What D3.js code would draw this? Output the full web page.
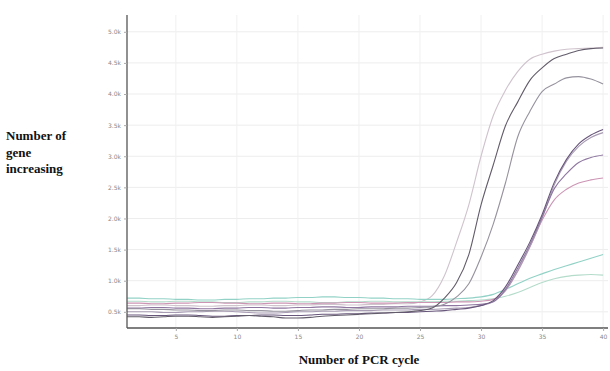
<!DOCTYPE html>
<html>
<head>
<meta charset="utf-8">
<script src="https://cdn.jsdelivr.net/npm/d3@7"></script>
<style>
  html, body { margin: 0; padding: 0; background: #fff; }
  svg { display: block; }
</style>
</head>
<body>
<svg id="chart" width="610" height="371"></svg>
<script>
// ---- data (values in thousands) ----
const cycles = d3.range(1, 41);
const xTickValues = [5, 10, 15, 20, 25, 30, 35, 40];
const yTickValues = [0.5, 1.0, 1.5, 2.0, 2.5, 3.0, 3.5, 4.0, 4.5, 5.0];
const yTickLabels = ["0.5k", "1.0k", "1.5k", "2.0k", "2.5k", "3.0k", "3.5k", "4.0k", "4.5k", "5.0k"];

const seriesNames = ["A", "B", "C", "R1", "R2", "R3", "R4", "G1", "G2"];
const seriesColors = ["#cfc3cc", "#625c6a", "#96929e", "#67557a", "#8e76a0", "#cc95b4", "#a89cb4", "#92d2c6", "#b4dccb"];

const sA = [0.60,0.60,0.61,0.61,0.60,0.60,0.59,0.59,0.60,0.60,
            0.61,0.61,0.60,0.60,0.61,0.61,0.62,0.62,0.61,0.61,
            0.62,0.62,0.63,0.63,0.66,0.76,1.08,1.62,2.22,3.00,
            3.65,4.06,4.36,4.56,4.64,4.69,4.72,4.73,4.74,4.75];
const sB = [0.42,0.42,0.41,0.42,0.43,0.43,0.42,0.41,0.42,0.43,
            0.44,0.43,0.42,0.40,0.40,0.41,0.43,0.44,0.45,0.46,
            0.47,0.48,0.49,0.50,0.52,0.56,0.72,0.97,1.42,2.22,
            2.86,3.49,3.87,4.22,4.42,4.57,4.64,4.70,4.73,4.74];
const sC = [0.55,0.55,0.54,0.54,0.53,0.53,0.52,0.52,0.53,0.53,
            0.52,0.52,0.51,0.51,0.52,0.53,0.53,0.54,0.54,0.55,
            0.55,0.55,0.56,0.56,0.57,0.58,0.62,0.74,0.95,1.38,
            1.91,2.57,3.31,3.72,4.04,4.16,4.26,4.28,4.24,4.16];
const sR1 = [0.45,0.45,0.44,0.44,0.45,0.45,0.44,0.43,0.43,0.44,
             0.44,0.45,0.45,0.44,0.44,0.45,0.46,0.46,0.47,0.47,
             0.48,0.48,0.49,0.49,0.50,0.51,0.52,0.54,0.56,0.60,
             0.68,0.90,1.25,1.62,2.06,2.58,2.95,3.20,3.34,3.43];
const sR2 = [0.56,0.56,0.57,0.57,0.56,0.56,0.55,0.55,0.56,0.56,
             0.57,0.57,0.56,0.56,0.57,0.57,0.58,0.58,0.57,0.57,
             0.58,0.58,0.58,0.59,0.59,0.59,0.60,0.60,0.61,0.62,
             0.66,0.86,1.20,1.58,2.02,2.48,2.72,2.90,2.98,3.02];
const sR3 = [0.64,0.64,0.63,0.63,0.64,0.64,0.65,0.65,0.64,0.64,
             0.63,0.63,0.64,0.64,0.63,0.63,0.64,0.64,0.65,0.65,
             0.64,0.64,0.64,0.65,0.65,0.65,0.65,0.66,0.66,0.67,
             0.70,0.84,1.15,1.54,1.97,2.30,2.47,2.57,2.62,2.65];
const sR4 = [0.50,0.50,0.50,0.49,0.49,0.50,0.50,0.51,0.51,0.50,
             0.49,0.48,0.48,0.49,0.50,0.50,0.51,0.51,0.52,0.52,
             0.52,0.53,0.53,0.53,0.54,0.54,0.55,0.56,0.57,0.60,
             0.66,0.84,1.16,1.55,2.00,2.54,2.92,3.16,3.30,3.38];
const sG1 = [0.72,0.72,0.71,0.71,0.70,0.70,0.69,0.69,0.70,0.70,
             0.71,0.71,0.72,0.72,0.73,0.73,0.74,0.74,0.73,0.73,
             0.72,0.72,0.71,0.71,0.70,0.70,0.70,0.71,0.72,0.74,
             0.78,0.86,0.95,1.04,1.11,1.18,1.24,1.30,1.36,1.42];
const sG2 = [0.67,0.67,0.66,0.66,0.67,0.67,0.66,0.66,0.65,0.65,
             0.66,0.66,0.67,0.67,0.66,0.66,0.65,0.65,0.66,0.66,
             0.67,0.67,0.66,0.66,0.66,0.66,0.67,0.67,0.68,0.69,
             0.71,0.75,0.81,0.89,0.97,1.03,1.07,1.09,1.10,1.09];

const seriesValues = [sA, sB, sC, sR1, sR2, sR3, sR4, sG1, sG2];

// ---- layout ----
const svg = d3.select("#chart");
const mLeft = 127, mRight = 608, mTop = 15, mBottom = 328;

const x = d3.scaleLinear().domain([1, 40.4]).range([mLeft, mRight]);
const y = d3.scaleLinear().domain([0.24, 5.27]).range([mBottom, mTop]);

// grid
const grid = svg.append("g");
grid.selectAll("line.h").data(yTickValues).join("line")
  .attr("class", "h")
  .attr("x1", mLeft).attr("x2", mRight)
  .attr("y1", d => y(d)).attr("y2", d => y(d))
  .attr("stroke", "#ededed").attr("stroke-width", 1);
grid.selectAll("line.v").data(xTickValues).join("line")
  .attr("class", "v")
  .attr("y1", mTop).attr("y2", mBottom)
  .attr("x1", d => x(d)).attr("x2", d => x(d))
  .attr("stroke", "#f0f0f0").attr("stroke-width", 1);

// lines
const line = d3.line()
  .x((d, i) => x(cycles[i]))
  .y(d => y(d))
  .curve(d3.curveMonotoneX);

// draw lighter series first, darker last
const order = [0, 8, 7, 5, 6, 4, 2, 3, 1];
svg.append("g").selectAll("path")
  .data(order)
  .join("path")
  .attr("d", k => line(seriesValues[k]))
  .attr("fill", "none")
  .attr("stroke", k => seriesColors[k])
  .attr("stroke-width", 1.1);

// axes
const yAxis = d3.axisLeft(y).tickValues(yTickValues)
  .tickFormat((d, i) => yTickLabels[i]).tickSize(3).tickPadding(3);
const xAxis = d3.axisBottom(x).tickValues(xTickValues).tickSize(3).tickPadding(4);

const gy = svg.append("g").attr("transform", `translate(${mLeft},0)`).call(yAxis);
const gx = svg.append("g").attr("transform", `translate(0,${mBottom})`).call(xAxis);

[gx, gy].forEach(g => {
  g.select(".domain").attr("stroke", "#555").attr("stroke-width", 1.3);
  g.selectAll(".tick line").attr("stroke", "#aaa");
  g.selectAll(".tick text")
    .attr("fill", "#888")
    .style("font-family", "'DejaVu Sans', sans-serif")
    .style("font-size", "6px");
});
gy.select(".domain").attr("d", `M0,${mTop}V${mBottom}`);
gx.select(".domain").attr("d", `M${mLeft},0H${mRight}`);

// titles
const titleStyle = sel => sel
  .style("font-family", "'Liberation Serif', 'Times New Roman', serif")
  .style("font-weight", "bold")
  .style("font-size", "13px")
  .attr("fill", "#111");

const yTitle = svg.append("text").attr("x", 6).attr("y", 140).call(titleStyle);
["Number of", "gene", "increasing"].forEach((t, i) => {
  yTitle.append("tspan").attr("x", 6).attr("y", 140 + i * 16.5).text(t);
});

svg.append("text").attr("x", 359).attr("y", 364)
  .attr("text-anchor", "middle").call(titleStyle)
  .text("Number of PCR cycle");
</script>
</body>
</html>
